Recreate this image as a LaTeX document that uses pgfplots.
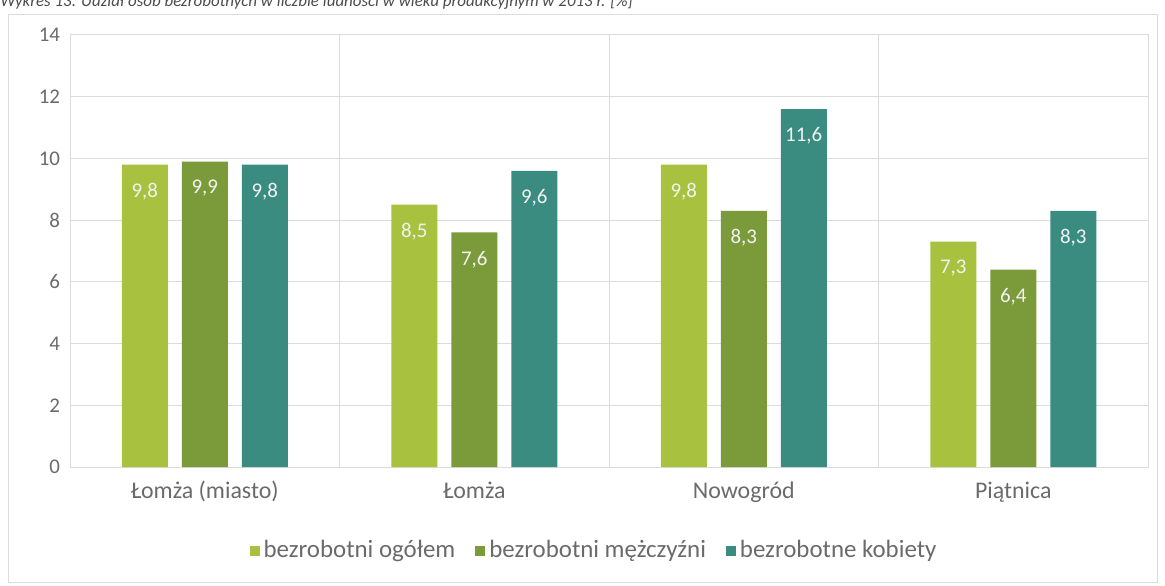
\documentclass[border=0pt]{standalone}
\usepackage{fontspec}
\setmainfont{Carlito}
\usepackage{pgfplots}
\pgfplotsset{compat=1.18}
\definecolor{c1}{HTML}{A8C23F}
\definecolor{c2}{HTML}{7B9B3A}
\definecolor{c3}{HTML}{3A8C80}
\definecolor{gridc}{HTML}{DCDCDC}
\definecolor{txt}{HTML}{6A6A6A}
\begin{document}
\begin{tikzpicture}[x=1bp,y=1bp]
\useasboundingbox (0,0) rectangle (582.5,292.5);
\draw[gridc] (4,1.5) rectangle (578.5,285.5);
\node[anchor=base west, font=\fontsize{8.5}{10}\selectfont\itshape, text=black!70, inner sep=0] at (0,289.5) {Wykres 13. Udział osób bezrobotnych w liczbie ludności w wieku produkcyjnym w 2013 r. [\%]};
\begin{axis}[
  at={(35bp,59bp)}, anchor=south west, scale only axis,
  width=539bp, height=216bp,
  ybar=7bp, bar width=23bp,
  ymin=0, ymax=14, ytick={0,2,...,14},
  xmin=-0.5, xmax=3.5, xtick={0,1,2,3},
  xticklabels={Łomża (miasto), Łomża, Nowogród, Piątnica},
  minor xtick={0.5,1.5,2.5}, xminorgrids, ymajorgrids,
  grid style={gridc, line width=0.5bp}, minor grid style={gridc, line width=0.5bp},
  axis line style={gridc, line width=0.5bp},
  major tick length=0, minor tick length=0,
  /pgf/number format/assume math mode=true,
  yticklabel style={font=\fontsize{10.5}{12}\selectfont, text=txt, xshift=-1.5bp},
  xticklabel style={font=\fontsize{12}{14}\selectfont, text=txt, anchor=base, yshift=-15.8bp},
  nodes near coords={\pgfmathprintnumber[use comma,fixed,fixed zerofill,precision=1]{\pgfplotspointmeta}},
  nodes near coords style={anchor=north, yshift=-5.7bp, text=white!95!black, font=\fontsize{10.5}{12}\selectfont},
  legend columns=3,
  legend style={at={(0.487,-0.194)}, anchor=center, draw=none, fill=none,
    font=\fontsize{12.5}{14}\selectfont, text=txt,
    /tikz/every even column/.append style={column sep=8bp}},
  legend image code/.code={\fill[#1] (0bp,-2.5bp) rectangle (5bp,2.5bp);},
]
\addplot[fill=c1, draw=none] coordinates {(0,9.8) (1,8.5) (2,9.8) (3,7.3)};
\addplot[fill=c2, draw=none] coordinates {(0,9.9) (1,7.6) (2,8.3) (3,6.4)};
\addplot[fill=c3, draw=none] coordinates {(0,9.8) (1,9.6) (2,11.6) (3,8.3)};
\legend{bezrobotni ogółem, bezrobotni mężczyźni, bezrobotne kobiety}
\end{axis}
\end{tikzpicture}
\end{document}
